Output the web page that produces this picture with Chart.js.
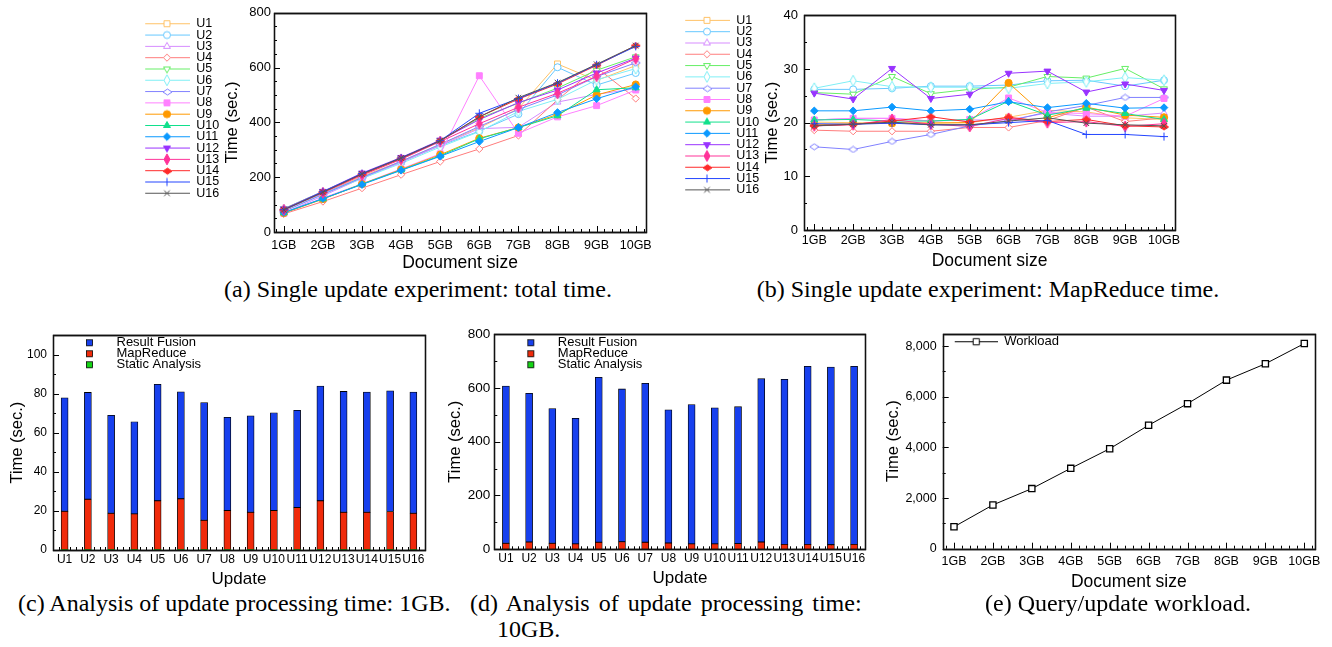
<!DOCTYPE html>
<html><head><meta charset="utf-8">
<script src="https://cdn.jsdelivr.net/npm/chart.js@4.4.1/dist/chart.umd.min.js"></script>
<style>
html,body{margin:0;padding:0;background:#fff;}
body{width:1332px;height:647px;position:relative;overflow:hidden;}
canvas{position:absolute;}
.cap{position:absolute;font-family:'Liberation Serif','Times New Roman',serif;font-size:24px;line-height:1;color:#000;white-space:nowrap;}
</style></head><body>
<canvas id="ca" width="520" height="272" style="left:140px;top:0px;width:520px;height:272px"></canvas>
<canvas id="cb" width="510" height="270" style="left:680px;top:0px;width:510px;height:270px"></canvas>
<canvas id="cc" width="440" height="266" style="left:0px;top:322px;width:440px;height:266px"></canvas>
<canvas id="cd" width="440" height="265" style="left:440px;top:322px;width:440px;height:265px"></canvas>
<canvas id="ce" width="462" height="271" style="left:870px;top:320px;width:462px;height:271px"></canvas>
<div class="cap" style="left:118px;top:277px;width:600px;text-align:center">(a) Single update experiment: total time.</div>
<div class="cap" style="left:688px;top:277px;width:600px;text-align:center">(b) Single update experiment: MapReduce time.</div>
<div class="cap" style="left:18px;top:591px">(c) Analysis of update processing time: 1GB.</div>
<div class="cap" style="left:470px;top:591px;word-spacing:3px">(d) Analysis of update processing time:</div>
<div class="cap" style="left:497px;top:617px">10GB.</div>
<div class="cap" style="left:985px;top:591px">(e) Query/update workload.</div>
<script>
// ---------------- DATA ----------------
const sizeLabels = ['1GB','2GB','3GB','4GB','5GB','6GB','7GB','8GB','9GB','10GB'];
const updateLabels = ['U1','U2','U3','U4','U5','U6','U7','U8','U9','U10','U11','U12','U13','U14','U15','U16'];

// (a) total time (sec.) per update, per document size
const totU1  = [78, 140, 203, 258, 320, 380, 450, 613, 553, 607];
const totU2  = [81, 140, 198, 255, 315, 368, 430, 601, 536, 580];
const totU3  = [69, 132, 196, 254, 316, 377, 382, 474, 502, 523];
const totU4  = [66, 111, 160, 209, 257, 303, 352, 482, 600, 487];
const totU5  = [85, 148, 212, 268, 333, 415, 470, 525, 590, 639];
const totU6  = [81, 138, 195, 250, 310, 366, 440, 484, 555, 596];
const totU7  = [75, 137, 199, 258, 320, 385, 447, 500, 567, 617];
const totU8  = [68, 124, 176, 230, 285, 570, 360, 420, 461, 518];
const totU9  = [69, 120, 175, 228, 282, 342, 381, 429, 500, 538];
const totU10 = [70, 121, 175, 226, 278, 340, 381, 424, 519, 526];
const totU11 = [71, 122, 173, 225, 276, 330, 381, 436, 486, 530];
const totU12 = [84, 148, 215, 272, 335, 410, 472, 518, 580, 634];
const totU13 = [81, 143, 207, 265, 330, 395, 455, 506, 568, 632];
const totU14 = [81, 145, 210, 268, 332, 420, 485, 540, 608, 680];
const totU15 = [81, 147, 213, 270, 333, 433, 487, 543, 610, 677];
const totU16 = [81, 145, 212, 270, 333, 420, 490, 545, 612, 680];

// (b) MapReduce time (sec.)
const mrU1  = [20.1, 20.0, 19.9, 20.0, 20.0, 21.0, 22.3, 22.0, 20.9, 20.6];
const mrU2  = [26.2, 26.2, 26.4, 26.8, 26.8, 27.0, 27.8, 27.9, 26.8, 27.9];
const mrU3  = [20.5, 20.8, 20.8, 20.3, 20.5, 20.5, 21.8, 21.2, 21.2, 21.8];
const mrU4  = [18.6, 18.4, 18.4, 18.4, 19.1, 19.1, 20.4, 22.9, 20.2, 20.9];
const mrU5  = [25.6, 25.3, 28.6, 25.4, 26.2, 26.6, 28.6, 28.3, 30.1, 26.3];
const mrU6  = [26.4, 27.8, 26.7, 26.6, 26.6, 26.4, 27.3, 27.6, 28.4, 27.9];
const mrU7  = [15.5, 15.0, 16.5, 17.8, 19.4, 20.3, 22.0, 23.2, 24.7, 24.7];
const mrU8  = [20.5, 20.8, 20.8, 20.3, 20.6, 24.6, 21.9, 21.7, 21.2, 24.5];
const mrU9  = [19.6, 19.8, 19.9, 19.9, 20.0, 27.4, 20.9, 22.9, 21.4, 21.0];
const mrU10 = [20.5, 20.6, 20.3, 20.3, 20.6, 24.0, 21.4, 22.7, 21.7, 20.6];
const mrU11 = [22.2, 22.2, 22.9, 22.2, 22.5, 23.9, 22.8, 23.6, 22.7, 22.8];
const mrU12 = [25.5, 24.4, 30.1, 24.5, 25.3, 29.2, 29.6, 25.7, 27.2, 26.0];
const mrU13 = [19.4, 19.6, 20.6, 19.7, 19.3, 20.8, 20.0, 20.2, 19.3, 19.8];
const mrU14 = [19.4, 19.7, 20.3, 21.1, 20.1, 21.0, 20.2, 20.6, 19.4, 19.2];
const mrU15 = [19.8, 19.7, 19.9, 19.6, 19.6, 20.0, 20.4, 17.8, 17.8, 17.4];
const mrU16 = [19.4, 19.7, 20.1, 19.6, 19.6, 20.3, 20.9, 19.9, 19.6, 19.4];

// (c) 1GB breakdown (sec.)
const resultFusion1GB   = [58.1, 54.7, 50.2, 47.2, 59.7, 54.8, 60.3, 47.8, 49.4, 50.1, 49.7, 58.8, 61.9, 61.6, 61.8, 62.1];
const mapReduce1GB      = [19.7, 25.9, 18.7, 18.4, 25.1, 26.1, 15.1, 20.1, 19.2, 20.1, 21.7, 25.1, 19.2, 19.2, 19.6, 18.7];
const staticAnalysis1GB = [0.1, 0.1, 0.1, 0.1, 0.1, 0.1, 0.1, 0.1, 0.1, 0.1, 0.1, 0.1, 0.1, 0.1, 0.1, 0.1];

// (d) 10GB breakdown (sec.)
const resultFusion10GB   = [585, 553, 501, 467, 613, 568, 591, 495, 518, 506, 509, 607, 614, 662, 660, 662];
const mapReduce10GB      = [22, 27, 22, 20, 26, 28, 26, 23, 20, 20, 21, 27, 18, 18, 17, 18];
const staticAnalysis10GB = [0.2, 0.2, 0.2, 0.2, 0.2, 0.2, 0.2, 0.2, 0.2, 0.2, 0.2, 0.2, 0.2, 0.2, 0.2, 0.2];

// (e) query/update workload (sec.)
const workload = [865, 1729, 2374, 3174, 3948, 4877, 5729, 6658, 7303, 8103];

// tick values
const yTicksA = [0, 200, 400, 600, 800];
const yTicksB = [0, 10, 20, 30, 40];
const yTicksC = [0, 20, 40, 60, 80, 100];
const yTicksD = [0, 200, 400, 600, 800];
const yTicksE = [0, 2000, 4000, 6000, 8000];
const barLegendOrder = ['Result Fusion', 'MapReduce', 'Static Analysis'];

// ---------------- STYLE ----------------
const FONT = "'Liberation Sans', Arial, Helvetica, sans-serif";
Chart.defaults.font.family = FONT;
Chart.defaults.color = '#000';

const totalSeries = [totU1,totU2,totU3,totU4,totU5,totU6,totU7,totU8,totU9,totU10,totU11,totU12,totU13,totU14,totU15,totU16];
const mrSeries = [mrU1,mrU2,mrU3,mrU4,mrU5,mrU6,mrU7,mrU8,mrU9,mrU10,mrU11,mrU12,mrU13,mrU14,mrU15,mrU16];

function rhombus(w, h, color, open) {
  const c = document.createElement('canvas');
  c.width = w + 2; c.height = h + 2;
  const g = c.getContext('2d');
  g.beginPath();
  g.moveTo(c.width / 2, 1); g.lineTo(c.width - 1, c.height / 2);
  g.lineTo(c.width / 2, c.height - 1); g.lineTo(1, c.height / 2); g.closePath();
  g.fillStyle = open ? '#fff' : color; g.fill();
  g.strokeStyle = color; g.lineWidth = 1; g.stroke();
  return c;
}

const seriesStyles = [
  {color:'#FFC266', shape:'rect', open:true, r:4.2},
  {color:'#66C8FF', shape:'circle', open:true, r:3.5},
  {color:'#D68CFF', shape:'triangle', open:true, r:4},
  {color:'#FF7C7C', shape:'rectRot', open:true, r:3.6},
  {color:'#66EE66', shape:'triangle', rot:180, open:true, r:4},
  {color:'#7FEFF5', img: rhombus(6, 11, '#7FEFF5', true)},
  {color:'#8080FF', img: rhombus(9, 6, '#8080FF', true)},
  {color:'#FF80FF', shape:'rect', open:false, r:4.2},
  {color:'#FF9900', shape:'circle', open:false, r:3.6},
  {color:'#10E08C', shape:'triangle', open:false, r:4},
  {color:'#0A99FF', shape:'rectRot', open:false, r:3.8},
  {color:'#9933FF', shape:'triangle', rot:180, open:false, r:4},
  {color:'#FF3399', img: rhombus(6, 11, '#FF3399', false)},
  {color:'#FF2A2A', img: rhombus(9, 6, '#FF2A2A', false)},
  {color:'#2244FF', shape:'cross', open:false, r:4},
  {color:'#555555', shape:'crossRot', open:false, r:4}
];

function drawMarker(g, st, x, y) {
  if (st.img) { g.drawImage(st.img, Math.round(x - st.img.width / 2), Math.round(y - st.img.height / 2)); return; }
  g.fillStyle = st.open ? '#fff' : st.color;
  g.strokeStyle = st.color; g.lineWidth = 1;
  if (Chart.helpers && Chart.helpers.drawPoint) {
    Chart.helpers.drawPoint(g, {pointStyle: st.shape, radius: st.r, rotation: st.rot || 0, borderWidth: 1}, x, y);
  } else {
    g.beginPath(); g.arc(x, y, st.r, 0, Math.PI * 2); g.fill(); g.stroke();
  }
}
function lineSample(st, W, H, blank) {
  const c = document.createElement('canvas');
  c.width = W; c.height = H;
  const g = c.getContext('2d');
  g.strokeStyle = st.color; g.lineWidth = 1;
  g.beginPath(); g.moveTo(blank || 0, H / 2); g.lineTo(W, H / 2); g.stroke();
  drawMarker(g, st, ((blank || 0) + W) / 2, H / 2);
  return c;
}
function squareSample(color, W, H, cx) {
  const c = document.createElement('canvas');
  c.width = W; c.height = H;
  const g = c.getContext('2d');
  g.fillStyle = color; g.fillRect(cx - 3, H / 2 - 3, 6, 6);
  g.strokeStyle = '#000'; g.lineWidth = 0.8; g.strokeRect(cx - 3, H / 2 - 3, 6, 6);
  return c;
}
const lineLegendImgs = seriesStyles.map(st => lineSample(st, 46, 13));

function drawFrame(chart) {
  const {ctx, chartArea: a} = chart;
  ctx.save();
  ctx.strokeStyle = '#111'; ctx.lineWidth = 1.3;
  ctx.beginPath();
  ctx.rect(Math.round(a.left) + 0.5, Math.round(a.top) + 0.5, Math.round(a.right - a.left), Math.round(a.bottom - a.top));
  ctx.stroke();
  ctx.restore();
}
const frameTicks = {
  id: 'frameTicks',
  beforeDatasetsDraw(chart, args, o) {
    const {ctx, chartArea: a, scales: {x, y}} = chart;
    ctx.save();
    ctx.strokeStyle = '#000'; ctx.lineWidth = 1;
    ctx.beginPath();
    const ny = Math.floor((y.max - y.min) / o.yMinor + 1e-6);
    for (let k = 0; k <= ny; k++) {
      const v = y.min + k * o.yMinor;
      const major = Math.abs(v / o.yMajor - Math.round(v / o.yMajor)) < 1e-6;
      const py = Math.round(y.getPixelForValue(v)) + 0.5;
      if (py < a.top + 1) continue;
      ctx.moveTo(a.left, py); ctx.lineTo(a.left + (major ? 6 : 3), py);
    }
    const nx = Math.round((o.xTo - o.xFrom) / o.xMinor);
    for (let k = 0; k <= nx; k++) {
      const v = o.xFrom + k * o.xMinor;
      const major = Math.abs(v - Math.round(v)) < 1e-6;
      const px = Math.round(x.getPixelForValue(v)) + 0.5;
      if (px <= a.left + 1 || px >= a.right - 1) continue;
      ctx.moveTo(px, a.bottom); ctx.lineTo(px, a.bottom - (major ? 6 : 3));
    }
    ctx.stroke();
    ctx.restore();
    drawFrame(chart);
  },
  afterDraw(chart) { drawFrame(chart); }
};

function lineDatasets(series) {
  return series.map((arr, i) => {
    const st = seriesStyles[i];
    return {
      label: updateLabels[i],
      data: arr.map((v, k) => ({x: k + 1, y: v})),
      borderColor: st.color, backgroundColor: st.color, borderWidth: 1,
      pointStyle: st.img || st.shape, rotation: st.rot || 0,
      pointRadius: st.r || 4, pointBorderWidth: 1,
      pointBackgroundColor: st.open ? '#fff' : st.color, pointBorderColor: st.color,
      tension: 0, fill: false, order: 16 - i
    };
  });
}

function lineLegend(th) {
  return {
    position: 'left', align: 'start', maxWidth: 82,
    title: {display: th > 0, text: '', font: {size: th || 1, lineHeight: 1}, padding: 0},
    labels: {
      usePointStyle: true, pointStyleWidth: 46, padding: -1.2,
      font: {size: 12.5, family: FONT}, color: '#000',
      generateLabels: (chart) => chart.data.datasets.map((ds, i) => ({
        text: ds.label, pointStyle: lineLegendImgs[i], fillStyle: ds.borderColor,
        strokeStyle: ds.borderColor, fontColor: '#000', lineWidth: 0, hidden: false, datasetIndex: i
      }))
    }
  };
}

function sizeXAxis(min, max, pad, height) {
  return {
    type: 'linear', min: min, max: max,
    grid: {display: false, drawTicks: false}, border: {display: false},
    afterBuildTicks: (s) => { s.ticks = sizeLabels.map((_, i) => ({value: i + 1})); },
    afterFit: (s) => { s.height = height; },
    ticks: {autoSkip: false, maxRotation: 0, padding: pad, font: {size: 12.5},
      callback: (v) => sizeLabels[Math.round(v) - 1]},
    title: {display: true, text: 'Document size', font: {size: 17.5, lineHeight: 1}, padding: {top: 0, bottom: 0}}
  };
}
function timeYAxis(min, max, tickVals, width, tickFont, tickPad, titlePad, fmt) {
  return {
    min: min, max: max,
    grid: {display: false, drawTicks: false}, border: {display: false},
    afterBuildTicks: (s) => { s.ticks = tickVals.map(v => ({value: v})); },
    afterFit: (s) => { s.width = width; },
    ticks: {padding: tickPad, font: {size: tickFont}, callback: fmt || ((v) => String(v))},
    title: {display: true, text: 'Time (sec.)', font: {size: 16.5, lineHeight: 1}, padding: {top: titlePad, bottom: 0}}
  };
}

const common = {responsive: false, animation: false, devicePixelRatio: 1, events: []};

// (a)
new Chart(document.getElementById('ca'), {
  type: 'line',
  data: {datasets: lineDatasets(totalSeries)},
  options: Object.assign({}, common, {
    layout: {padding: {left: 5.2, top: 12.7, right: 14, bottom: 0}},
    plugins: {legend: lineLegend(6), tooltip: {enabled: false},
      frameTicks: {yMinor: 50, yMajor: 200, xMinor: 0.2, xFrom: 0.8, xTo: 10.2}},
    scales: {x: sizeXAxis(0.749, 10.263, 6, 40), y: timeYAxis(0, 800, yTicksA, 46.8, 13, 3, -2.7)}
  }),
  plugins: [frameTicks]
});

// (b)
new Chart(document.getElementById('cb'), {
  type: 'line',
  data: {datasets: lineDatasets(mrSeries)},
  options: Object.assign({}, common, {
    layout: {padding: {left: 5.2, top: 15.3, right: 15, bottom: 0}},
    plugins: {legend: lineLegend(0), tooltip: {enabled: false},
      frameTicks: {yMinor: 5, yMajor: 10, xMinor: 0.2, xFrom: 0.8, xTo: 10.2}},
    scales: {x: sizeXAxis(0.735, 10.283, 3, 40), y: timeYAxis(0, 40, yTicksB, 36.8, 13, 6, -3.1)}
  }),
  plugins: [frameTicks]
});

// bar charts
const BLUE = '#1740EE', RED = '#F02A0A', GREEN = '#14D414';
const barImgs = {
  'Result Fusion': squareSample(BLUE, 59, 13, 38.5),
  'MapReduce': squareSample(RED, 59, 13, 38.5),
  'Static Analysis': squareSample(GREEN, 59, 13, 38.5)
};
function barLegend(th) {
  return {
    position: 'chartArea', align: 'start',
    title: {display: true, text: '', font: {size: th, lineHeight: 1}, padding: 0},
    labels: {
      usePointStyle: true, pointStyleWidth: 59, padding: -2,
      font: {size: 13, family: FONT}, color: '#000',
      generateLabels: (chart) => barLegendOrder.map((name) => {
        const i = chart.data.datasets.findIndex(d => d.label === name);
        return {text: name, pointStyle: barImgs[name], fillStyle: '#000', strokeStyle: '#000',
          fontColor: '#000', lineWidth: 0, hidden: false, datasetIndex: i};
      })
    }
  };
}
function barData(mr, sa, rf) {
  const base = {borderColor: '#000', borderWidth: 0.8, borderSkipped: false, barThickness: 7, stack: 's'};
  return {labels: updateLabels, datasets: [
    Object.assign({}, base, {label: 'Static Analysis', data: sa, backgroundColor: GREEN, borderWidth: 0}),
    Object.assign({}, base, {label: 'MapReduce', data: mr, backgroundColor: RED}),
    Object.assign({}, base, {label: 'Result Fusion', data: rf, backgroundColor: BLUE})
  ]};
}
function updXAxis(pad, height) {
  return {
    stacked: true, grid: {display: false, drawTicks: false}, border: {display: false},
    afterFit: (s) => { s.height = height; },
    ticks: {autoSkip: false, maxRotation: 0, minRotation: 0, padding: pad, font: {size: 12}},
    title: {display: true, text: 'Update', font: {size: 17, lineHeight: 1}, padding: {top: 0, bottom: 0}}
  };
}

// (c)
const yC = timeYAxis(0, 110, yTicksC, 53, 12, 6, 9.5); yC.stacked = true;
new Chart(document.getElementById('cc'), {
  type: 'bar',
  data: barData(mapReduce1GB, staticAnalysis1GB, resultFusion1GB),
  options: Object.assign({}, common, {
    layout: {padding: {left: 0, top: 10, right: 15, bottom: 0}},
    plugins: {legend: barLegend(16.2), tooltip: {enabled: false},
      frameTicks: {yMinor: 10, yMajor: 20, xMinor: 0.25, xFrom: -0.5, xTo: 15.5}},
    scales: {x: updXAxis(2.5, 38), y: yC}
  }),
  plugins: [frameTicks]
});

// (d)
const yD = timeYAxis(0, 800, yTicksD, 54.3, 13.5, 4, 7); yD.stacked = true;
new Chart(document.getElementById('cd'), {
  type: 'bar',
  data: barData(mapReduce10GB, staticAnalysis10GB, resultFusion10GB),
  options: Object.assign({}, common, {
    layout: {padding: {left: 0, top: 8.7, right: 14.3, bottom: 0}},
    plugins: {legend: barLegend(16.2), tooltip: {enabled: false},
      frameTicks: {yMinor: 100, yMajor: 200, xMinor: 0.25, xFrom: -0.5, xTo: 15.5}},
    scales: {x: updXAxis(2.5, 37.7), y: yD}
  }),
  plugins: [frameTicks]
});

// (e)
const workStyle = {color: '#000', shape: 'rect', open: true, r: 4.4};
const workImg = lineSample(workStyle, 51, 13, 8);
new Chart(document.getElementById('ce'), {
  type: 'line',
  data: {datasets: [{
    label: 'Workload', data: workload.map((v, k) => ({x: k + 1, y: v})),
    borderColor: '#000', borderWidth: 1, pointStyle: 'rect', pointRadius: 4.4, pointBorderWidth: 1.3,
    pointBackgroundColor: '#fff', pointBorderColor: '#000', tension: 0, fill: false
  }]},
  options: Object.assign({}, common, {
    layout: {padding: {left: 0, top: 9, right: 17, bottom: 0}},
    plugins: {
      legend: {
        position: 'chartArea', align: 'start',
        title: {display: true, text: '', font: {size: 11.2, lineHeight: 1}, padding: 0},
        labels: {usePointStyle: true, pointStyleWidth: 51, padding: 4, font: {size: 13, family: FONT}, color: '#000',
          generateLabels: () => [{text: 'Workload', pointStyle: workImg, fillStyle: '#000', strokeStyle: '#000', fontColor: '#000', lineWidth: 0, hidden: false, datasetIndex: 0}]}
      },
      tooltip: {enabled: false},
      frameTicks: {yMinor: 1000, yMajor: 2000, xMinor: 0.2, xFrom: 0.8, xTo: 10.2}
    },
    scales: {
      x: sizeXAxis(0.71, 10.275, 5, 42.3),
      y: timeYAxis(0, 8500, yTicksE, 72.7, 12.5, 6, 15, (v) => v.toLocaleString('en-US'))
    }
  }),
  plugins: [frameTicks]
});
</script>
</body></html>
